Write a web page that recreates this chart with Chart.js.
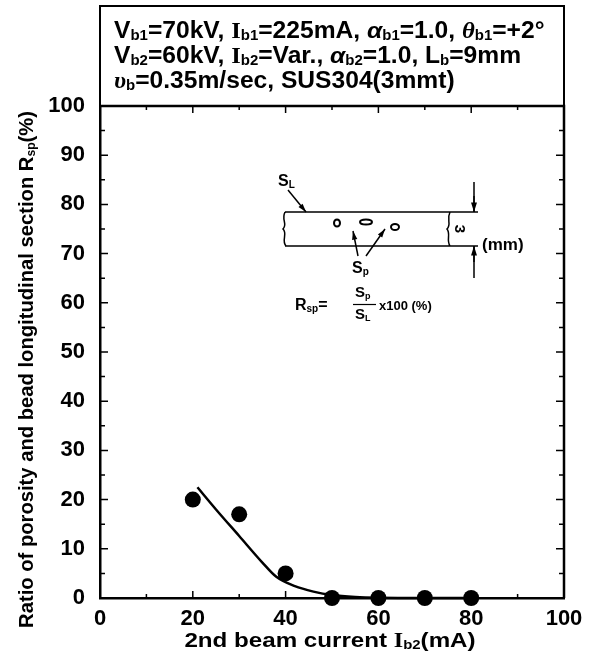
<!DOCTYPE html>
<html>
<head>
<meta charset="utf-8">
<script src="https://cdn.jsdelivr.net/npm/chart.js@4"></script>
<style>
  html, body { margin: 0; padding: 0; background: #fff; }
  #c { display: block; }
</style>
</head>
<body>
<canvas id="c" width="595" height="657"></canvas>
<script>
// measured points: 2nd beam current (mA) vs Rsp (%)
var currents = [20, 30, 40, 50, 60, 70, 80];
var ratios = [20, 17, 5, 0, 0, 0, 0];

// hand drawn trend curve
var fitX = [21, 25, 30, 35, 38, 42, 46, 50, 55, 60, 70, 80];
var fitY = [22.5, 18, 12.6, 7.2, 4.3, 2.4, 1.3, 0.6, 0.2, 0.05, 0, 0];

var xTicks = [0, 20, 40, 60, 80, 100];
var yTicks = [0, 10, 20, 30, 40, 50, 60, 70, 80, 90, 100];

var SANS = '"Liberation Sans", Arial, sans-serif';
var SERIF = '"Liberation Serif", "Times New Roman", serif';

function runFont(r, size) {
	var s = r.sub ? Math.round(size * 0.6) : size;
	var fam = r.serif ? SERIF : SANS;
	return (r.it ? 'italic ' : '') + 'bold ' + s + 'px ' + fam;
}
function runsWidth(ctx, runs, size) {
	var w = 0;
	runs.forEach(function(r) {
		ctx.font = runFont(r, size);
		w += ctx.measureText(r.t).width;
	});
	return w;
}
// draw a line of text made of runs; sub runs are small and dropped.
// sx stretches the line sideways (the scan is a bit wide)
function drawRuns(ctx, x, y, runs, size, sx) {
	sx = sx || 1;
	ctx.save();
	ctx.translate(x, y);
	ctx.scale(sx, 1);
	ctx.textBaseline = 'alphabetic';
	ctx.textAlign = 'left';
	var cx = 0;
	runs.forEach(function(r) {
		ctx.font = runFont(r, size);
		ctx.fillText(r.t, cx, r.sub ? size * 0.1 : 0);
		cx += ctx.measureText(r.t).width;
	});
	ctx.restore();
}

function arrow(ctx, x1, y1, x2, y2, head) {
	ctx.beginPath();
	ctx.moveTo(x1, y1);
	ctx.lineTo(x2, y2);
	ctx.stroke();
	var a = Math.atan2(y2 - y1, x2 - x1);
	ctx.beginPath();
	ctx.moveTo(x2, y2);
	ctx.lineTo(x2 - head * Math.cos(a - 0.3), y2 - head * Math.sin(a - 0.3));
	ctx.lineTo(x2 - head * Math.cos(a + 0.3), y2 - head * Math.sin(a + 0.3));
	ctx.closePath();
	ctx.fill();
}

var frame = {
	id: 'frame',
	afterDraw: function(chart) {
		var ctx = chart.ctx;
		var a = chart.chartArea;
		var xs = chart.scales.x, ys = chart.scales.y;
		ctx.save();
		ctx.strokeStyle = '#000';
		ctx.fillStyle = '#000';

		// top and right frame
		ctx.lineWidth = 2.5;
		ctx.beginPath();
		ctx.moveTo(a.left, a.top);
		ctx.lineTo(a.right, a.top);
		ctx.lineTo(a.right, a.bottom);
		ctx.stroke();

		// inward ticks
		ctx.lineWidth = 1.5;
		ctx.beginPath();
		for (var v = 5; v < 100; v += 5) {
			var py = ys.getPixelForValue(v);
			var len = v % 10 === 0 ? 8 : 5;
			ctx.moveTo(a.left, py); ctx.lineTo(a.left + len, py);
			ctx.moveTo(a.right, py); ctx.lineTo(a.right - len, py);
		}
		for (var u = 10; u < 100; u += 10) {
			var px = xs.getPixelForValue(u);
			var l2 = u % 20 === 0 ? 7 : 4;
			ctx.moveTo(px, a.bottom); ctx.lineTo(px, a.bottom - l2);
			ctx.moveTo(px, a.top); ctx.lineTo(px, a.top + l2);
		}
		ctx.stroke();

		// condition box above the plot
		ctx.lineWidth = 2;
		ctx.strokeRect(a.left, 6, a.right - a.left, a.top - 6);
		var ts = 23, tsx = 1.07;
		drawRuns(ctx, 114, 38, [
			{t: 'V'}, {t: 'b1', sub: 1}, {t: '=70kV, '},
			{t: 'I', serif: 1}, {t: 'b1', sub: 1}, {t: '=225mA, '},
			{t: 'α', it: 1}, {t: 'b1', sub: 1}, {t: '=1.0, '},
			{t: 'θ', it: 1, serif: 1}, {t: 'b1', sub: 1}, {t: '=+2°'}
		], ts, tsx);
		drawRuns(ctx, 114, 63, [
			{t: 'V'}, {t: 'b2', sub: 1}, {t: '=60kV, '},
			{t: 'I', serif: 1}, {t: 'b2', sub: 1}, {t: '=Var., '},
			{t: 'α', it: 1}, {t: 'b2', sub: 1}, {t: '=1.0, L'},
			{t: 'b', sub: 1}, {t: '=9mm'}
		], ts, tsx);
		drawRuns(ctx, 114, 88, [
			{t: 'υ', it: 1, serif: 1}, {t: 'b', sub: 1}, {t: '=0.35m/sec, SUS304(3mmt)'}
		], ts, tsx);

		// inset sketch of the bead section
		ctx.lineWidth = 1.5;
		ctx.beginPath();
		ctx.moveTo(285, 212); ctx.lineTo(478, 212);
		ctx.moveTo(285, 246); ctx.lineTo(478, 246);
		ctx.moveTo(285, 212);
		ctx.bezierCurveTo(281, 220, 288, 224, 283, 229);
		ctx.bezierCurveTo(288, 234, 281, 240, 286, 246);
		ctx.moveTo(450, 212);
		ctx.bezierCurveTo(446, 220, 452, 224, 447, 229);
		ctx.bezierCurveTo(451, 234, 446, 240, 450, 246);
		ctx.moveTo(474, 182); ctx.lineTo(474, 212);
		ctx.moveTo(474, 246); ctx.lineTo(474, 278);
		ctx.stroke();
		arrow(ctx, 474, 196, 474, 212, 10);
		arrow(ctx, 474, 262, 474, 246, 10);
		ctx.lineWidth = 2;
		ctx.beginPath(); ctx.ellipse(337, 223, 3, 3.5, 0, 0, Math.PI * 2); ctx.stroke();
		ctx.beginPath(); ctx.ellipse(366, 222, 6, 2.6, 0, 0, Math.PI * 2); ctx.stroke();
		ctx.beginPath(); ctx.ellipse(395, 227, 4, 3, 0, 0, Math.PI * 2); ctx.stroke();
		ctx.lineWidth = 1.5;
		arrow(ctx, 288, 190, 306, 212, 9);
		arrow(ctx, 358, 256, 353, 231, 9);
		arrow(ctx, 366, 256, 385, 229, 9);

		drawRuns(ctx, 278, 186, [{t: 'S'}, {t: 'L', sub: 1}], 16);
		drawRuns(ctx, 352, 273, [{t: 'S'}, {t: 'p', sub: 1}], 16);
		ctx.save();
		ctx.translate(459, 229);
		ctx.rotate(Math.PI / 2);
		ctx.font = 'bold 15px ' + SANS;
		ctx.textAlign = 'center';
		ctx.textBaseline = 'middle';
		ctx.fillText('3', 0, 0);
		ctx.restore();
		drawRuns(ctx, 482, 250, [{t: '(mm)'}], 17);

		// Rsp formula
		drawRuns(ctx, 295, 310, [{t: 'R'}, {t: 'sp', sub: 1}, {t: '='}], 16);
		drawRuns(ctx, 355, 297, [{t: 'S'}, {t: 'p', sub: 1}], 15);
		drawRuns(ctx, 355, 319, [{t: 'S'}, {t: 'L', sub: 1}], 15);
		ctx.lineWidth = 1.2;
		ctx.beginPath(); ctx.moveTo(353, 304.5); ctx.lineTo(376, 304.5); ctx.stroke();
		drawRuns(ctx, 379, 310, [{t: 'x100 (%)'}], 13);

		// axis titles
		var xt = [{t: '2nd beam current '}, {t: 'I', serif: 1}, {t: 'b2', sub: 1}, {t: '(mA)'}];
		var xsx = 1.15;
		var xw = runsWidth(ctx, xt, 21) * xsx;
		drawRuns(ctx, 330 - xw / 2, 647, xt, 21, xsx);

		var yt = [{t: 'Ratio of porosity and bead longitudinal section R'}, {t: 'sp', sub: 1}, {t: '(%)'}];
		var yw = runsWidth(ctx, yt, 20);
		ctx.save();
		ctx.translate(33, 372);
		ctx.rotate(-Math.PI / 2);
		drawRuns(ctx, -yw / 2, 0, yt, 20, 1.01);
		ctx.restore();

		ctx.restore();
	}
};

var points = currents.map(function(c, i) { return {x: c, y: ratios[i]}; });
var fit = fitX.map(function(c, i) { return {x: c, y: fitY[i]}; });

new Chart(document.getElementById('c'), {
	type: 'scatter',
	data: {
		datasets: [{
			data: points,
			pointRadius: 8,
			pointBackgroundColor: '#000',
			pointBorderWidth: 0,
			showLine: false,
			clip: false
		}, {
			data: fit,
			showLine: true,
			pointRadius: 0,
			borderColor: '#000',
			borderWidth: 2.5,
			cubicInterpolationMode: 'monotone',
			clip: false
		}]
	},
	options: {
		responsive: false,
		animation: false,
		devicePixelRatio: 1,
		layout: { padding: { top: 106, right: 31, left: 0, bottom: 0 } },
		plugins: { legend: { display: false }, tooltip: { enabled: false } },
		scales: {
			x: {
				type: 'linear', min: 0, max: 100,
				afterBuildTicks: function(s) { s.ticks = xTicks.map(function(v) { return {value: v}; }); },
				afterFit: function(s) { s.height = 59; },
				grid: { display: false, drawTicks: false },
				border: { color: '#000', width: 2.5 },
				ticks: { color: '#000', padding: 8, font: { family: SANS, size: 22, weight: 'bold' } }
			},
			y: {
				type: 'linear', min: 0, max: 100,
				afterBuildTicks: function(s) { s.ticks = yTicks.map(function(v) { return {value: v}; }); },
				afterFit: function(s) { s.width = 100; },
				grid: { display: false, drawTicks: false },
				border: { color: '#000', width: 2.5 },
				ticks: { color: '#000', padding: 15, font: { family: SANS, size: 22, weight: 'bold' } }
			}
		}
	},
	plugins: [frame]
});
</script>
</body>
</html>
